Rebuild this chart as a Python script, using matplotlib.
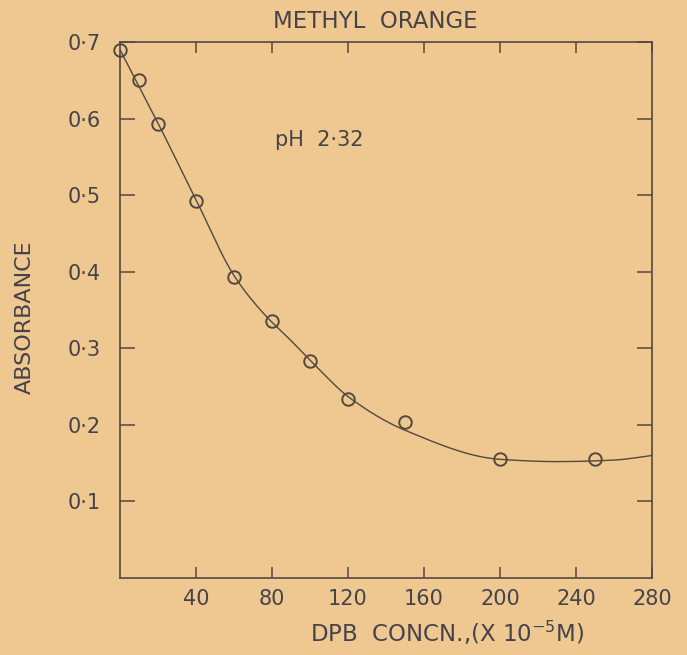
import numpy as np
import matplotlib
matplotlib.use("Agg")
import matplotlib.pyplot as plt

# Measured absorbance of methyl orange vs DPB concentration
dpb_conc = [0, 10, 20, 40, 60, 80, 100, 120, 150, 200, 250]
absorbance = [0.69, 0.65, 0.593, 0.493, 0.393, 0.335, 0.284, 0.234, 0.204, 0.155, 0.156]

# Knots along the hand-drawn smooth trend curve
curve_x = [0, 20, 40, 60, 75, 90, 105, 120, 150, 200, 230, 260, 280]
curve_y = [0.69, 0.594, 0.494, 0.395, 0.347, 0.310, 0.272, 0.237, 0.193, 0.155, 0.152, 0.154, 0.160]

x_ticks = [40, 80, 120, 160, 200, 240, 280]
x_tick_labels = ["40", "80", "120", "160", "200", "240", "280"]
y_ticks = [0.1, 0.2, 0.3, 0.4, 0.5, 0.6, 0.7]
y_tick_labels = ["0·1", "0·2", "0·3", "0·4", "0·5", "0·6", "0·7"]


def pchip(xk, yk, xs):
    """Monotone piecewise cubic Hermite interpolation (Fritsch-Carlson)."""
    xk = np.asarray(xk, float)
    yk = np.asarray(yk, float)
    h = np.diff(xk)
    delta = np.diff(yk) / h
    n = len(xk)
    d = np.zeros(n)
    for i in range(1, n - 1):
        if delta[i - 1] * delta[i] > 0:
            w1 = 2 * h[i] + h[i - 1]
            w2 = h[i] + 2 * h[i - 1]
            d[i] = (w1 + w2) / (w1 / delta[i - 1] + w2 / delta[i])
    d[0] = delta[0]
    d[-1] = delta[-1]
    idx = np.clip(np.searchsorted(xk, xs) - 1, 0, n - 2)
    t = (xs - xk[idx]) / h[idx]
    h00 = 2 * t**3 - 3 * t**2 + 1
    h10 = t**3 - 2 * t**2 + t
    h01 = -2 * t**3 + 3 * t**2
    h11 = t**3 - t**2
    return (h00 * yk[idx] + h10 * h[idx] * d[idx]
            + h01 * yk[idx + 1] + h11 * h[idx] * d[idx + 1])


paper = "#efc891"
ink = "#45434a"
line_ink = "#54483e"

fig = plt.figure(figsize=(6.87, 6.55), dpi=100, facecolor=paper)
ax = fig.add_axes([120 / 687, 1 - 578 / 655, 532 / 687, 536 / 655], facecolor=paper)

xs = np.linspace(0, 280, 500)
ax.plot(xs, pchip(curve_x, curve_y, xs), color=line_ink, lw=1.0, zorder=2)
ax.plot(dpb_conc, absorbance, linestyle="none", marker="o", markersize=9,
        markerfacecolor="none", markeredgecolor=line_ink, markeredgewidth=1.4,
        clip_on=False, zorder=3)

ax.set_xlim(0, 280)
ax.set_ylim(0, 0.7)
for s in ax.spines.values():
    s.set_color(line_ink)
    s.set_linewidth(1.2)

ax.set_xticks(x_ticks)
ax.set_xticklabels(x_tick_labels)
ax.set_yticks(y_ticks)
ax.set_yticklabels(y_tick_labels)
ax.tick_params(axis="both", direction="in", width=1.1, color=line_ink,
               labelcolor=ink, labelsize=15, top=True, right=True)
ax.tick_params(axis="x", length=8, pad=8)
ax.tick_params(axis="y", length=11, pad=14)

fig.text(375 / 687, 1 - 22 / 655, "METHYL  ORANGE", color=ink, fontsize=16.5,
         ha="center", va="center")
fig.text(447 / 687, 1 - 633 / 655, "DPB  CONCN.,(X 10$^{-5}$M)", color=ink,
         fontsize=16.5, ha="center", va="center")
fig.text(25 / 687, 1 - 317 / 655, "ABSORBANCE", color=ink, fontsize=16,
         rotation=90, ha="center", va="center")
ax.text(0.291, 0.817, "pH  2·32", transform=ax.transAxes, color=ink,
        fontsize=15, ha="left", va="center")

fig.savefig("out.png", dpi=100, facecolor=paper)
